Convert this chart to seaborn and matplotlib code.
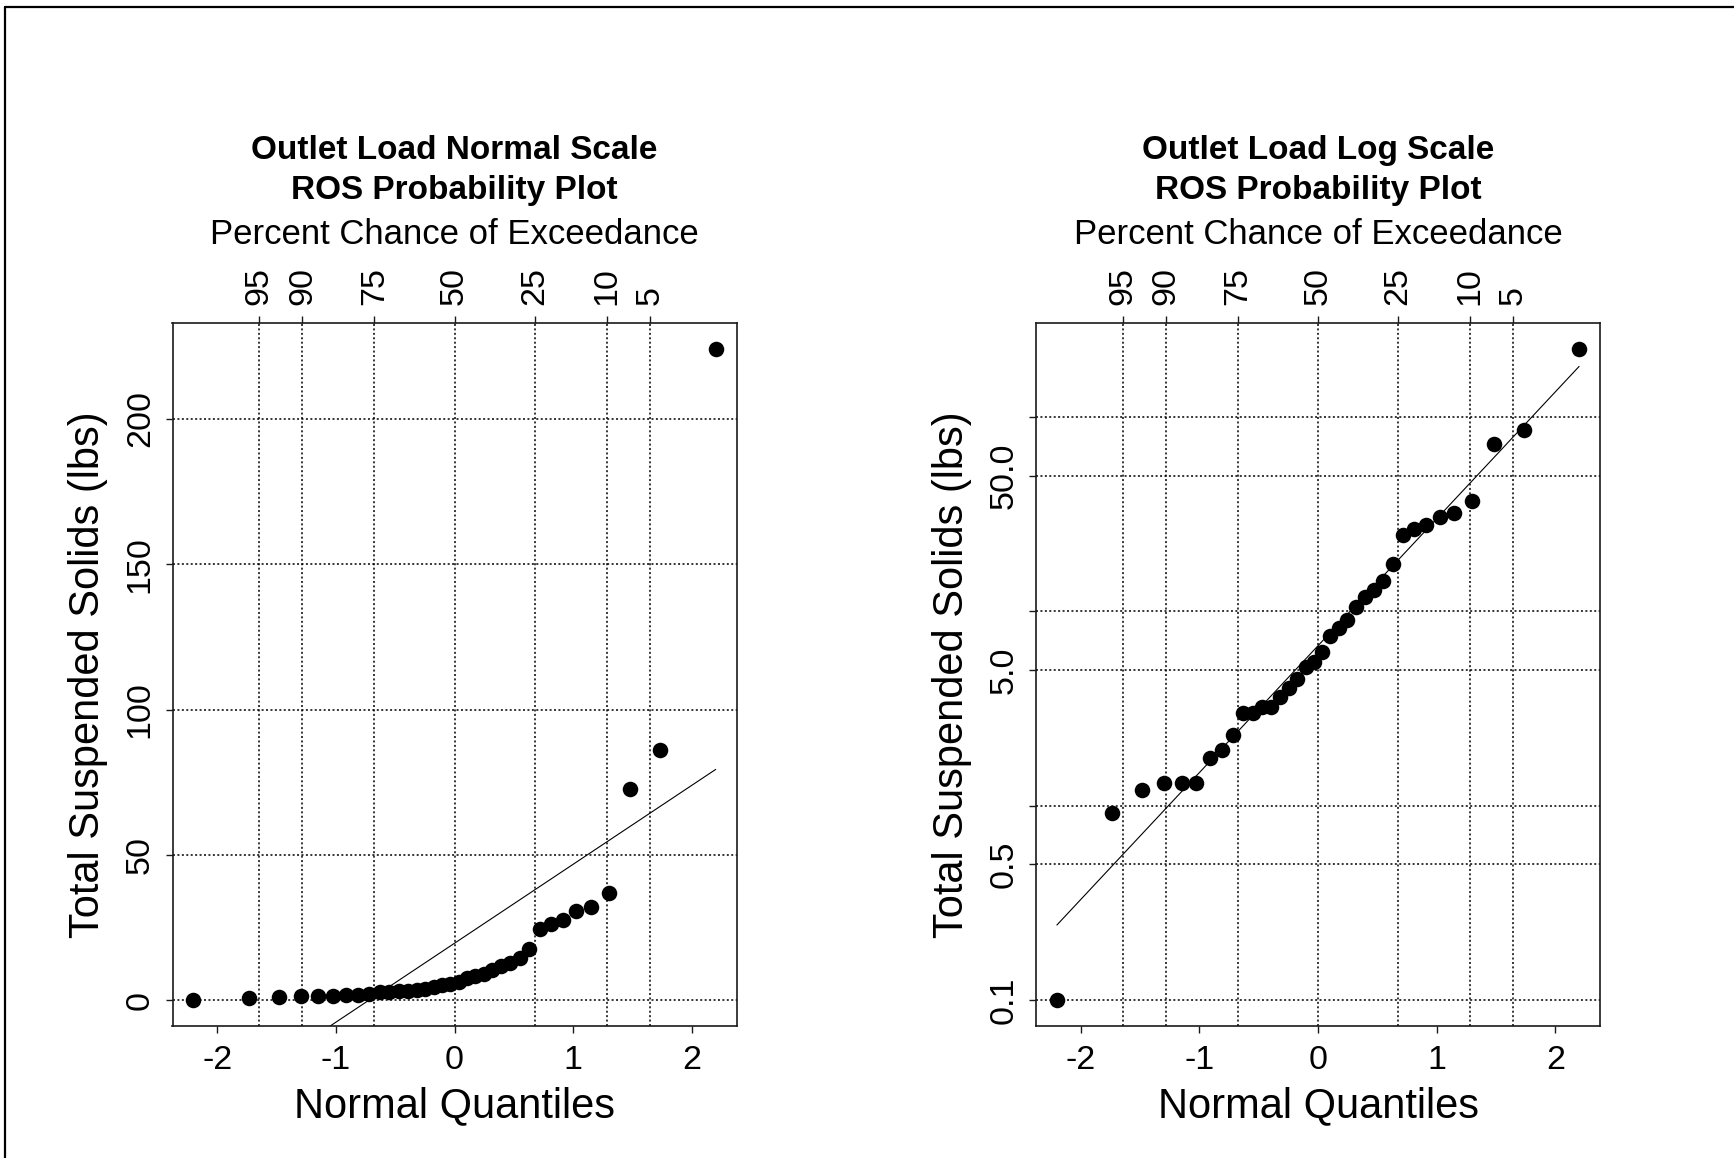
import numpy as np
import pandas as pd
import matplotlib
matplotlib.use("Agg")
import matplotlib.pyplot as plt
from matplotlib.lines import Line2D
import seaborn as sns

# ---- data ----
normal_quantiles = [-2.200, -1.732, -1.480, -1.297, -1.150, -1.025, -0.913, -0.812, -0.719,
                    -0.631, -0.549, -0.469, -0.393, -0.319, -0.246, -0.175, -0.105, -0.035,
                    0.035, 0.105, 0.175, 0.246, 0.319, 0.393, 0.469, 0.549, 0.631, 0.719,
                    0.812, 0.913, 1.025, 1.150, 1.297, 1.480, 1.732, 2.200]
tss_lbs = [0.10, 0.92, 1.21, 1.31, 1.31, 1.31, 1.76, 1.94, 2.32, 3.00, 3.00, 3.21, 3.22,
           3.63, 4.01, 4.51, 5.17, 5.48, 6.17, 7.50, 8.22, 9.06, 10.5, 11.8, 12.9, 14.4,
           17.5, 24.6, 26.4, 27.7, 30.6, 32.1, 36.8, 72.6, 86.0, 224.0]
exceed_pos = [-1.645, -1.2816, -0.6745, 0.0, 0.6745, 1.2816, 1.645]
exceed_labels = ["95", "90", "75", "50", "25", "10", "5"]
x_ticks = [-2, -1, 0, 1, 2]
lin_ticks = [0, 50, 100, 150, 200]
log_ticks = [0.1, 0.5, 1, 5, 10, 50, 100]
log_tick_labels = ["0.1", "0.5", "", "5.0", "", "50.0", ""]
titles = ["Outlet Load Normal Scale", "Outlet Load Log Scale"]
subtitle = "ROS Probability Plot"

df = pd.DataFrame({"z": normal_quantiles, "tss": tss_lbs})

sns.set_style("white")
plt.rcParams["font.family"] = ["Liberation Sans", "DejaVu Sans"]
plt.rcParams["text.color"] = "black"
plt.rcParams["axes.labelcolor"] = "black"
plt.rcParams["xtick.color"] = "black"
plt.rcParams["ytick.color"] = "black"

W, H = 1734, 1158
fig = plt.figure(figsize=(W / 100, H / 100), dpi=100)


def rect(l, t, r, b):
    return [l / W, 1 - b / H, (r - l) / W, (b - t) / H]


axL = fig.add_axes(rect(172.5, 323, 736.6, 1026))
axR = fig.add_axes(rect(1036, 323, 1600, 1026))

z = np.asarray(normal_quantiles)
y = np.asarray(tss_lbs)
zr = z.max() - z.min()
xlim = (z.min() - 0.04 * zr, z.max() + 0.04 * zr)

grid_kw = dict(color="black", lw=1.1, linestyle=(0, (1.3, 1.6)), zorder=1)
TICK = 24.5
LAB = 30

for ax, logscale, title in [(axL, False, titles[0]), (axR, True, titles[1])]:
    # fitted line
    xs = np.array([z.min(), z.max()])
    if logscale:
        b, a = np.polyfit(z, np.log10(y), 1)
        ys = 10 ** (a + b * xs)
    else:
        b, a = np.polyfit(z, y, 1)
        ys = a + b * xs
    sns.lineplot(x=xs, y=ys, ax=ax, color="black", lw=0.8, zorder=2)
    sns.scatterplot(data=df, x="z", y="tss", ax=ax, color="black", s=125,
                    linewidth=0, zorder=3)

    if logscale:
        ax.set_yscale("log")
        ly = np.log10(y)
        lr = ly.max() - ly.min()
        ax.set_ylim(10 ** (ly.min() - 0.04 * lr), 10 ** (ly.max() + 0.04 * lr))
        ax.set_yticks(log_ticks, labels=log_tick_labels)
        ax.minorticks_off()
        hlines = log_ticks
    else:
        yr = y.max() - y.min()
        ax.set_ylim(y.min() - 0.04 * yr, y.max() + 0.04 * yr)
        ax.set_yticks(lin_ticks, labels=[str(v) for v in lin_ticks])
        hlines = lin_ticks
    ax.set_xlim(*xlim)
    ax.set_xticks(x_ticks, labels=[str(v) for v in x_ticks])

    for hv in hlines:
        ax.axhline(hv, **grid_kw)
    for vv in exceed_pos:
        ax.axvline(vv, **grid_kw)

    for sp in ax.spines.values():
        sp.set_visible(True)
        sp.set_color("#1a1a1a")
        sp.set_linewidth(1.2)

    ax.tick_params(axis="both", direction="out", length=5, width=1.0,
                   color="#1a1a1a", labelsize=TICK, bottom=True, left=True,
                   labelcolor="black")
    ax.tick_params(axis="x", pad=9)
    ax.tick_params(axis="y", pad=7, labelrotation=90)
    for lab in ax.get_yticklabels():
        lab.set_va("center")

    ax.set_xlabel("Normal Quantiles", fontsize=LAB, va="center", color="black")
    ax.xaxis.set_label_coords(0.5, (1026 - 1106) / 703)
    ax.set_ylabel("Total Suspended Solids (lbs)", fontsize=LAB, va="center",
                  color="black")
    ax.yaxis.set_label_coords((88 - 172.5) / 564, 0.5)

    sec = ax.secondary_xaxis("top")
    sec.set_xticks(exceed_pos, labels=exceed_labels)
    sec.tick_params(axis="x", direction="out", length=5, width=1.0, color="#1a1a1a",
                    labelsize=TICK, pad=8, labelrotation=90, labelcolor="black")
    sec.spines["top"].set_visible(False)

    pos = ax.get_position()
    cx = pos.x0 + pos.width / 2
    fig.text(cx, 1 - 159 / H, title, ha="center", va="baseline",
             fontsize=24, fontweight="bold", color="black")
    fig.text(cx, 1 - 199 / H, subtitle, ha="center", va="baseline",
             fontsize=24, fontweight="bold", color="black")
    fig.text(cx, 1 - 244 / H, "Percent Chance of Exceedance", ha="center",
             va="baseline", fontsize=25, color="black")

# thin frame lines at top and left, as in the reference screenshot
fig.add_artist(Line2D([5 / W, 1], [1 - 7 / H, 1 - 7 / H], transform=fig.transFigure,
                      color="black", lw=1.6))
fig.add_artist(Line2D([5 / W, 5 / W], [0, 1 - 7 / H], transform=fig.transFigure,
                      color="black", lw=1.6))

fig.savefig("out.png", dpi=100, facecolor="white")
